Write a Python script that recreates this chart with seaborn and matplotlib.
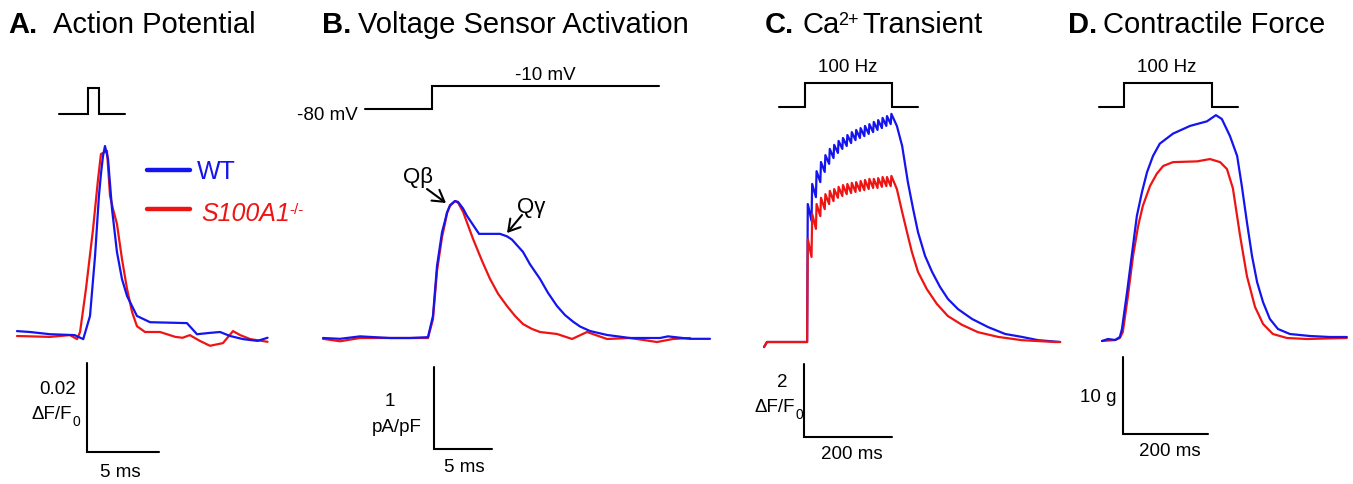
import numpy as np
import matplotlib.pyplot as plt
import seaborn as sns

sns.set_style("white")
plt.rcParams['font.family'] = ['Liberation Sans', 'DejaVu Sans']
plt.rcParams['text.color'] = 'black'

W, H = 1353, 485
BLUE = '#1414ee'
RED = '#ee1414'

# A. Action potential (time in ms, dF/F0)
ap_time_wt = [0, 0.9, 2.3, 4.0, 4.6, 5.07, 5.42, 5.69, 5.83, 5.97, 6.11, 6.32, 6.6, 6.94, 7.29,
              7.64, 8.33, 9.24, 11.8, 12.5, 13.4, 14.1, 14.8, 15.7, 16.7, 17.4]
ap_wt = [0.0011, 0.0009, 0.0004, 0.0002, -0.0007, 0.0045, 0.018, 0.0315, 0.0364, 0.0404, 0.0427,
         0.0398, 0.0285, 0.0189, 0.0128, 0.009, 0.0045, 0.0031, 0.0029, 0.0004, 0.0007,
         0.0009, 0.0, -0.0007, -0.0011, -0.0004]
ap_time_ko = [0, 2.3, 3.68, 4.17, 4.38, 4.79, 5.28, 5.63, 5.83, 6.25, 6.46, 6.67, 6.94, 7.29,
              7.64, 7.99, 8.33, 8.89, 9.93, 11.0, 11.5, 12.0, 12.7, 13.4, 14.3, 15.0, 15.5,
              16.2, 17.4]
ap_ko = [0.0, -0.0002, 0.0002, -0.0007, 0.0009, 0.0106, 0.024, 0.0353, 0.0409, 0.0416,
         0.0315, 0.0285, 0.0252, 0.0173, 0.0106, 0.0054, 0.0022, 0.0009, 0.0009, -0.0002,
         -0.0004, 0.0002, -0.0011, -0.0022, -0.0016, 0.0011, 0.0002, -0.0007, -0.0013]
ap_stim_time = [2.9, 4.9, 4.9, 5.7, 5.7, 7.5]
ap_stim_level = [0, 0, 1, 1, 0, 0]

# B. Voltage sensor activation (ms, pA/pF)
vs_time_wt = [0, 1.47, 3.19, 4.48, 5.78, 7.5, 9.05, 9.48, 9.83, 10.26, 10.52, 10.69, 10.95,
              11.38, 11.64, 12.07, 12.41, 13.45, 14.83, 15.26, 15.86, 16.29, 17.24, 17.84,
              18.71, 19.4, 20.17, 20.86, 21.55, 22.16, 23.02, 24.48, 26.47, 29.05, 29.74,
              31.64, 33.36]
vs_wt = [0, -0.01, 0.02, 0.01, 0, 0, 0.01, 0.27, 0.88, 1.29, 1.43, 1.53, 1.62, 1.67, 1.66,
         1.58, 1.49, 1.27, 1.27, 1.27, 1.24, 1.20, 1.05, 0.90, 0.72, 0.55, 0.39, 0.28, 0.2,
         0.14, 0.085, 0.037, 0, 0, 0.02, -0.01, -0.01]
vs_time_ko = [0, 1.47, 3.19, 5.78, 9.05, 9.48, 9.83, 10.26, 10.52, 10.69, 10.95, 11.38, 11.64,
              12.07, 12.93, 13.71, 14.4, 15.09, 15.86, 16.55, 17.24, 18.02, 18.71, 20.17,
              21.47, 22.76, 24.48, 26.47, 28.79, 30.17, 31.64]
vs_ko = [-0.01, -0.04, 0, 0, 0, 0.23, 0.82, 1.23, 1.40, 1.52, 1.61, 1.67, 1.65, 1.54, 1.21,
         0.94, 0.72, 0.54, 0.39, 0.27, 0.17, 0.11, 0.073, 0.049, -0.012, 0.073, -0.012, 0,
         -0.049, -0.012, 0]
vs_step_time = [3.6, 9.4, 9.4, 29.0]
vs_step_mv = [-80, -80, -10, -10]

# C. Ca2+ transient (ms, dF/F0), 100 Hz train
ca_pre_time = [0, 6.8, 98]
ca_pre = [-0.14, 0, 0]
ca_train_start = 98
ca_peak_wt = [3.78, 4.33, 4.68, 4.93, 5.12, 5.29, 5.40, 5.51, 5.59, 5.67, 5.75, 5.81, 5.86,
              5.92, 5.97, 6.03, 6.08, 6.14, 6.19, 6.25]
ca_trough_wt = [3.32, 3.97, 4.38, 4.66, 4.88, 5.04, 5.18, 5.29, 5.37, 5.45, 5.53, 5.59, 5.64,
                5.70, 5.75, 5.81, 5.86, 5.92, 5.97]
ca_peak_ko = [2.82, 3.51, 3.78, 3.95, 4.05, 4.14, 4.19, 4.25, 4.30, 4.33, 4.36, 4.38, 4.41,
              4.44, 4.47, 4.47, 4.49, 4.52, 4.52, 4.55]
ca_trough_ko = [2.33, 3.10, 3.45, 3.64, 3.78, 3.86, 3.95, 4.00, 4.05, 4.08, 4.11, 4.14, 4.16,
                4.19, 4.22, 4.22, 4.25, 4.27, 4.27]
ca_decay_time_wt = [302, 314, 327, 339, 350, 366, 382, 400, 418, 441, 473, 509, 548, 586, 623,
                    673]
ca_decay_wt = [5.92, 5.37, 4.38, 3.64, 3.01, 2.36, 1.92, 1.51, 1.18, 0.90, 0.63, 0.41, 0.22,
               0.14, 0.05, 0.0]
ca_decay_time_ko = [302, 314, 325, 336, 350, 370, 393, 418, 450, 486, 532, 586, 661, 673]
ca_decay_ko = [4.19, 3.56, 3.01, 2.47, 1.92, 1.45, 1.04, 0.71, 0.47, 0.27, 0.14, 0.05, 0.0, 0.0]
ca_stim_time = [34, 93, 93, 291, 291, 350]
ca_stim_level = [0, 0, 1, 1, 0, 0]

# D. Contractile force (ms, g)
f_time_wt = [0, 14, 31, 42, 47, 59, 71, 82, 94, 106, 120, 136, 167, 207, 247, 268, 282, 301,
             318, 329, 341, 353, 365, 379, 395, 414, 442, 489, 536, 576]
f_wt = [-0.13, 0.13, 0, 0.39, 1.43, 6.23, 11.4, 16.1, 19.2, 21.8, 23.9, 25.5, 26.8, 27.8, 28.4,
        29.2, 28.7, 26.5, 23.9, 20.0, 15.3, 10.9, 7.5, 4.9, 2.73, 1.43, 0.78, 0.52, 0.39, 0.39]
f_time_ko = [0, 31, 42, 49, 61, 73, 85, 96, 113, 129, 144, 167, 224, 254, 278, 294, 308, 325,
             341, 360, 379, 402, 435, 482, 576]
f_ko = [-0.13, 0, 0.26, 1.04, 5.71, 10.9, 14.8, 17.4, 20.0, 21.6, 22.6, 23.1, 23.2, 23.5, 23.1,
        22.2, 19.7, 13.5, 8.3, 4.3, 2.08, 0.78, 0.26, 0.13, 0.26]
f_stim_time = [-7, 52, 52, 259, 259, 320]
f_stim_level = [0, 0, 1, 1, 0, 0]


def train(peaks, troughs, decay_t, decay_v):
    t, v = list(ca_pre_time), list(ca_pre)
    for k, p in enumerate(peaks):
        t0 = ca_train_start + 10 * k
        t.append(t0 + 1.5)
        v.append(p)
        if k < len(troughs):
            t.append(t0 + 10)
            v.append(troughs[k])
    return t + decay_t, v + decay_v


fig = plt.figure(figsize=(W / 100, H / 100), dpi=100)


def panel(x0, y0, sx, sy):
    # axes spanning the figure; x0,y0 = pixel of (t=0, value=0), sx/sy = pixels per unit
    ax = fig.add_axes([0, 0, 1, 1])
    ax.set_xlim(-x0 / sx, (W - x0) / sx)
    ax.set_ylim((y0 - H) / sy, y0 / sy)
    ax.axis('off')
    return ax


def txt(x, y, s, **kw):
    return fig.text(x / W, 1 - y / H, s, **kw)


def trace(ax, t, v, color, lw=1.6):
    sns.lineplot(x=t, y=v, ax=ax, color=color, lw=lw, estimator=None, sort=False, legend=False,
                 solid_joinstyle='round')


def scalebar(ax, t, v, dt, dv):
    ax.plot([t, t, t + dt], [v + dv, v, v], color='k', lw=1.5, solid_joinstyle='miter')


def stim(ax, t, level, base, height):
    ax.plot(t, [base + l * height for l in level], color='k', lw=1.5, solid_joinstyle='miter')


def sup(ax, parent, s, size, dx=1, dy=0):
    return ax.annotate(s, xy=(1, 1), xycoords=parent, xytext=(dx, dy), textcoords='offset points',
                       fontsize=size, ha='left', va='top', color=parent.get_color(),
                       annotation_clip=False)


def sub0(ax, parent, size):
    return ax.annotate('0', xy=(1, 0.1), xycoords=parent, xytext=(0.5, 0),
                       textcoords='offset points', fontsize=size, ha='left', va='center',
                       annotation_clip=False)


TS = 21
LS = 13.5

# ---------- A ----------
axA = panel(17, 337, 14.4, 4450)
trace(axA, ap_time_ko, ap_ko, RED)
trace(axA, ap_time_wt, ap_wt, BLUE)
stim(axA, ap_stim_time, ap_stim_level, 0.0499, 0.0058)
scalebar(axA, 4.86, -0.0261, 5, 0.02)
txt(8, 33, 'A.', fontsize=TS, fontweight='bold')
txt(53, 33, 'Action Potential', fontsize=TS)
txt(76, 390, '0.02', fontsize=LS, ha='right', va='center')
dfa = txt(72, 415, 'ΔF/F', fontsize=LS, ha='right', va='center')
sub0(axA, dfa, 10)
txt(120, 473, '5 ms', fontsize=LS, ha='center', va='center')
fig.add_artist(plt.Line2D([147 / W, 190 / W], [1 - 171 / H] * 2, color=BLUE, lw=3.2))
fig.add_artist(plt.Line2D([147 / W, 190 / W], [1 - 210 / H] * 2, color=RED, lw=3.2))
txt(197, 172, 'WT', fontsize=18, color=BLUE, va='center')
ko = txt(201, 214, 'S100A1', fontsize=18, color=RED, va='center', style='italic')
sup(axA, ko, '-/-', 11, dx=0, dy=-1)

# ---------- B ----------
axB = panel(323, 339, 11.6, 82)
trace(axB, vs_time_ko, vs_ko, RED)
trace(axB, vs_time_wt, vs_wt, BLUE)
stim(axB, vs_step_time, [(m + 80) / 70 for m in vs_step_mv], 2.79, 0.28)
scalebar(axB, 9.57, -1.354, 5, 1)
txt(322, 33, 'B.', fontsize=TS, fontweight='bold')
txt(358, 33, 'Voltage Sensor Activation', fontsize=TS)
txt(358, 115, '-80 mV', fontsize=LS, ha='right', va='center')
txt(545, 75, '-10 mV', fontsize=LS, ha='center', va='center')
txt(390, 402, '1', fontsize=LS, ha='center', va='center')
txt(397, 428, 'pA/pF', fontsize=LS, ha='center', va='center')
txt(464, 468, '5 ms', fontsize=LS, ha='center', va='center')
txt(418, 178, 'Qβ', fontsize=16, ha='center', va='center')
txt(531, 208, 'Qγ', fontsize=16, ha='center', va='center')
for tail, tip in [((427, 190), (446, 204)), ((522, 216), (507, 234))]:
    axB.annotate('', xy=(tip[0] / W, 1 - tip[1] / H), xytext=(tail[0] / W, 1 - tail[1] / H),
                 xycoords='figure fraction', textcoords='figure fraction',
                 arrowprops=dict(arrowstyle='->,head_length=0.5,head_width=0.3', lw=1.5,
                                 color='k', shrinkA=0, shrinkB=0, mutation_scale=16))

# ---------- C ----------
axC = panel(764, 343, 0.44, 36.5)
t_wt, v_wt = train(ca_peak_wt, ca_trough_wt, ca_decay_time_wt, ca_decay_wt)
t_ko, v_ko = train(ca_peak_ko, ca_trough_ko, ca_decay_time_ko, ca_decay_ko)
trace(axC, t_wt, v_wt, BLUE)
trace(axC, t_ko, v_ko, RED)
stim(axC, ca_stim_time, ca_stim_level, 6.44, 0.66)
scalebar(axC, 91, -2.60, 200, 2)
txt(765, 33, 'C.', fontsize=TS, fontweight='bold')
ca = txt(802, 33, 'Ca', fontsize=TS)
s2 = sup(axC, ca, '2+', 13, dx=-1, dy=-1)
axC.annotate('Transient', xy=(1, 0), xycoords=(s2, ca), xytext=(3, 0),
             textcoords='offset points', fontsize=TS, ha='left', va='bottom',
             annotation_clip=False)
txt(848, 68, '100 Hz', fontsize=LS, ha='center', va='center')
txt(782, 383, '2', fontsize=LS, ha='center', va='center')
dfc = txt(795, 408, 'ΔF/F', fontsize=LS, ha='right', va='center')
sub0(axC, dfc, 10)
txt(852, 455, '200 ms', fontsize=LS, ha='center', va='center')

# ---------- D ----------
axD = panel(1102, 341, 0.425, 7.7)
trace(axD, f_time_ko, f_ko, RED)
trace(axD, f_time_wt, f_wt, BLUE)
stim(axD, f_stim_time, f_stim_level, 30.3, 3.12)
scalebar(axD, 49.4, -12.2, 200, 10)
txt(1068, 33, 'D.', fontsize=TS, fontweight='bold')
txt(1103, 33, 'Contractile Force', fontsize=TS)
txt(1167, 68, '100 Hz', fontsize=LS, ha='center', va='center')
txt(1117, 398, '10 g', fontsize=LS, ha='right', va='center')
txt(1170, 452, '200 ms', fontsize=LS, ha='center', va='center')

fig.savefig('out.png', dpi=100)
